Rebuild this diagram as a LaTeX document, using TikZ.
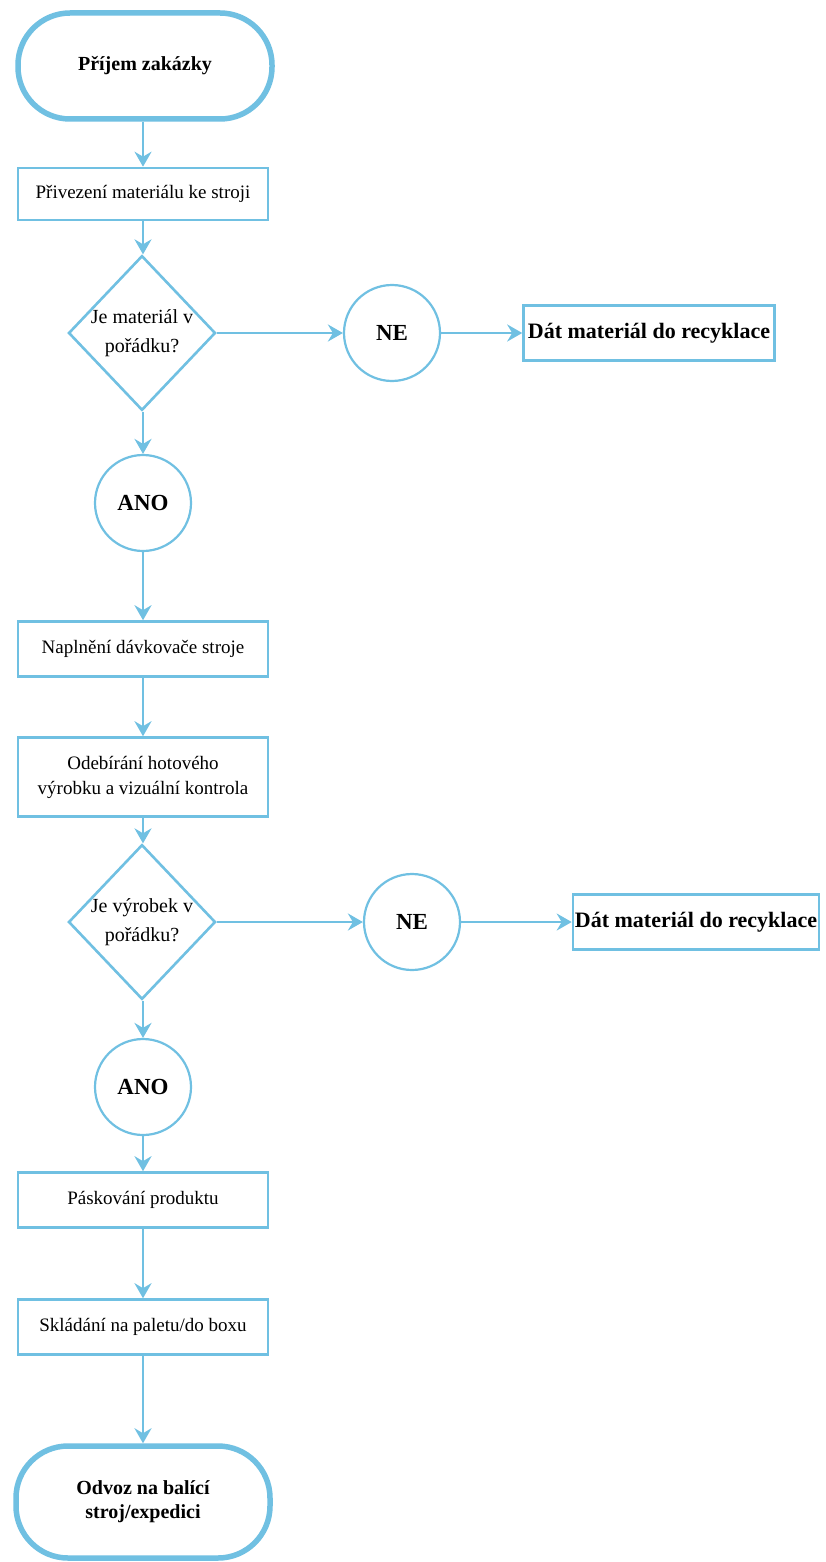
\documentclass[tikz,border=0pt]{standalone}
\usepackage{fontspec}
\setmainfont{Liberation Serif}
\usetikzlibrary{shapes.geometric,arrows.meta}
\definecolor{flow}{RGB}{112,192,226}
\tikzset{
  x=1pt, y=-1pt,
  base/.style={draw=flow, text=black, align=center, inner sep=0pt},
  terminal/.style={base, line width=5.5pt, rounded corners=52pt,
    minimum width=254pt, minimum height=106pt, font=\bfseries\fontsize{20}{24}\selectfont},
  process/.style={base, line width=2.6pt, minimum width=250pt,
    font=\fontsize{19}{25}\selectfont},
  decision/.style={base, diamond, line width=2.6pt, minimum width=140pt,
    minimum height=148pt, aspect=0.95, font=\fontsize{20}{29}\selectfont},
  answer/.style={base, circle, line width=2.2pt, minimum size=96pt,
    font=\bfseries\fontsize{23}{27}\selectfont},
  recycle/.style={base, line width=2.6pt, minimum height=55pt,
    font=\bfseries\fontsize{22}{26}\selectfont},
  flowarrow/.style={draw=flow, line width=2.4pt,
    -{Stealth[length=15pt,width=17pt,inset=5pt]}}
}
\begin{document}
\begin{tikzpicture}
\useasboundingbox[fill=white] (0,0) rectangle (825,1562);

% main column
\node[terminal] (start) at (145,66) {Příjem zakázky};
\node[process, minimum height=52pt] (p1) at (143,194) {Přivezení materiálu ke stroji};
\node[decision] (d1) at (142,333) {Je materiál v\\pořádku?};
\node[answer] (ano1) at (143,503) {ANO};
\node[process, minimum height=55pt] (p2) at (143,649) {Naplnění dávkovače stroje};
\node[process, minimum height=79pt] (p3) at (143,777) {Odebírání hotového\\výrobku a vizuální kontrola};
\node[decision] (d2) at (142,922) {Je výrobek v\\pořádku?};
\node[answer] (ano2) at (143,1087) {ANO};
\node[process, minimum height=55pt] (p4) at (143,1200) {Páskování produktu};
\node[process, minimum height=55pt] (p5) at (143,1327) {Skládání na paletu/do boxu};
\node[terminal, minimum height=112pt] (end) at (143,1502) {Odvoz na balící\\stroj/expedici};

% rejection branches
\node[answer] (ne1) at (392,333) {NE};
\node[recycle, minimum width=251pt] (r1) at (649,333) {Dát materiál do recyklace};
\node[answer] (ne2) at (412,922) {NE};
\node[recycle, minimum width=246pt] (r2) at (696,922) {Dát materiál do recyklace};

% connectors
\draw[flowarrow] (start.south -| p1) -- (p1);
\draw[flowarrow] (p1) -- (p1 |- d1.north);
\draw[flowarrow] (d1.south -| ano1) -- (ano1);
\draw[flowarrow] (ano1) -- (p2);
\draw[flowarrow] (p2) -- (p3);
\draw[flowarrow] (p3) -- (p3 |- d2.north);
\draw[flowarrow] (d2.south -| ano2) -- (ano2);
\draw[flowarrow] (ano2) -- (p4);
\draw[flowarrow] (p4) -- (p5);
\draw[flowarrow] (p5) -- (end);

\draw[flowarrow] (d1.east) -- (ne1.west);
\draw[flowarrow] (ne1.east) -- (r1.west);
\draw[flowarrow] (d2.east) -- (ne2.west);
\draw[flowarrow] (ne2.east) -- (r2.west);
\end{tikzpicture}
\end{document}
